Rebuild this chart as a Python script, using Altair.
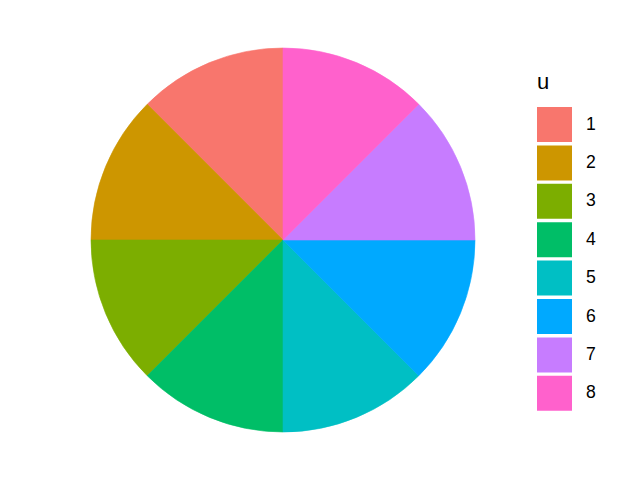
import altair as alt
import pandas as pd

categories = ["1", "2", "3", "4", "5", "6", "7", "8"]
values = [1, 1, 1, 1, 1, 1, 1, 1]
colors = ["#F8766D", "#CD9600", "#7CAE00", "#00BE67", "#00BFC4", "#00A9FF", "#C77CFF", "#FF61CC"]

df = pd.DataFrame({"u": categories, "v": values, "ord": list(range(len(categories)))})

scale = alt.Scale(domain=categories, range=colors)

chart = alt.Chart(df).mark_arc(radius=192, strokeWidth=0.6).encode(
    theta=alt.Theta("v:Q", stack=True),
    order=alt.Order("ord:Q", sort="descending"),
    stroke=alt.Stroke("u:N", scale=scale, legend=None),
    color=alt.Color(
        "u:N",
        scale=scale,
        legend=alt.Legend(
            title="u",
            orient="none",
            legendX=537,
            legendY=72,
            symbolType="square",
            symbolSize=1225,
            symbolStrokeWidth=0,
            symbolOpacity=1,
            rowPadding=3.4,
            labelOffset=14,
            labelFontSize=17.6,
            titleFontSize=22,
            titleFontWeight="normal",
            titlePadding=13,
            labelFont="Liberation Sans",
            titleFont="Liberation Sans",
            labelColor="#000000",
            titleColor="#000000",
        ),
    ),
    x=alt.value(283),
    y=alt.value(240),
).properties(
    width=640, height=480, padding=0, autosize=alt.AutoSizeParams(type="none")
).configure_view(stroke=None)

chart.save("out.html", embed_options={"renderer": "svg", "actions": False})
